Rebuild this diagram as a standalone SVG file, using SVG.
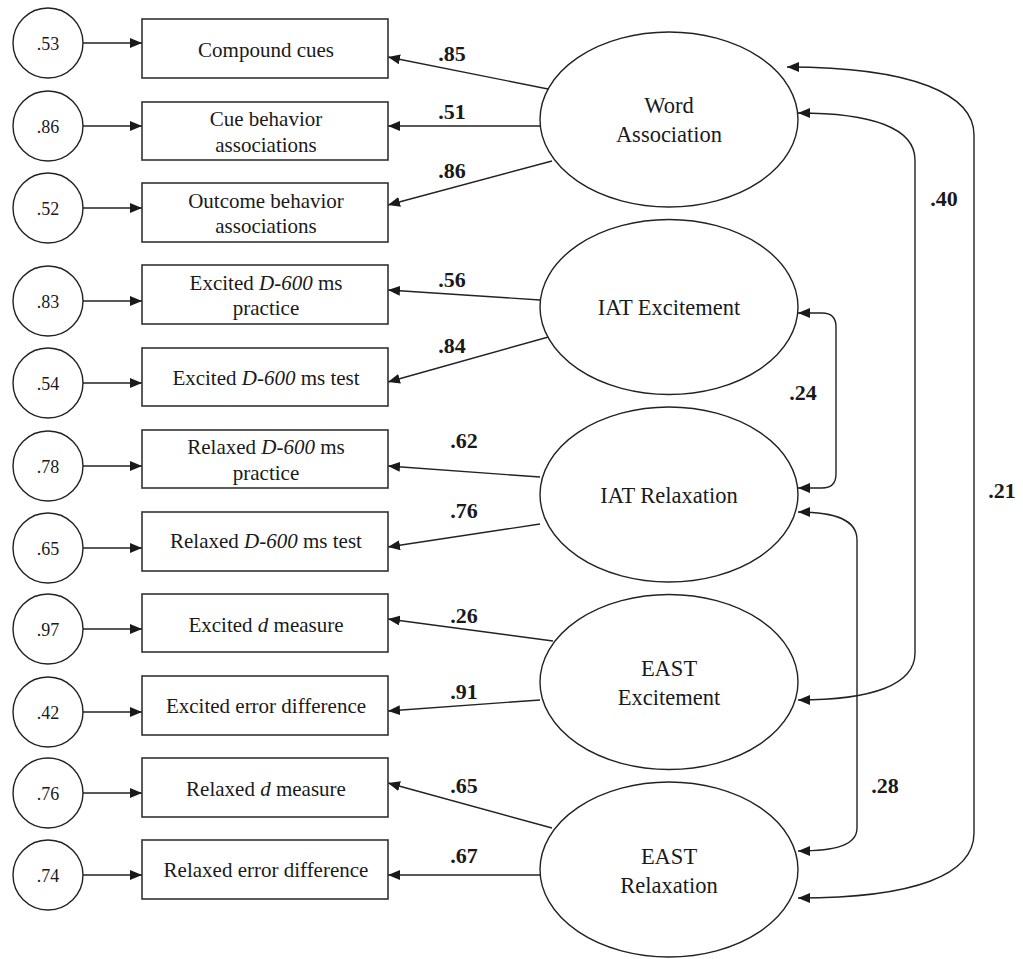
<svg xmlns="http://www.w3.org/2000/svg" width="1023" height="959" viewBox="0 0 1023 959">
<style>
.c{fill:#fff;stroke:#222;stroke-width:1.4}
.b{fill:#fff;stroke:#333;stroke-width:1.6}
text{font-family:'Liberation Serif','DejaVu Serif',serif;fill:#1a1a1a;text-anchor:middle}
.ct{font-size:18px}
.bt{font-size:21px}
.lt{font-size:22.5px}
.w{font-weight:bold;font-size:22px}
.a{fill:none;stroke:#222;stroke-width:1.4;marker-end:url(#ah)}
.d{fill:none;stroke:#222;stroke-width:1.4;marker-start:url(#ah);marker-end:url(#ah)}
</style>
<defs>
<marker id="ah" viewBox="0 0 12 10" refX="12" refY="5" markerWidth="12" markerHeight="10" markerUnits="userSpaceOnUse" orient="auto-start-reverse">
<path d="M0,0 L12,5 L0,10 z" fill="#1a1a1a"/>
</marker>
</defs>
<rect width="1023" height="959" fill="#fff"/>

<g id="connectors">
<path class="a" d="M83 43 H142"/>
<path class="a" d="M83 126 H142"/>
<path class="a" d="M83 208 H142"/>
<path class="a" d="M83 301 H142"/>
<path class="a" d="M83 383 H142"/>
<path class="a" d="M83 466 H142"/>
<path class="a" d="M83 548 H142"/>
<path class="a" d="M83 629 H142"/>
<path class="a" d="M83 712 H142"/>
<path class="a" d="M83 793 H142"/>
<path class="a" d="M83 875 H142"/>
<path class="a" d="M553 90 L388 57"/>
<path class="a" d="M540 126 L388 126"/>
<path class="a" d="M552 161 L388 205"/>
<path class="a" d="M540 300 L388 290"/>
<path class="a" d="M552 336 L388 382"/>
<path class="a" d="M540 477 L388 466"/>
<path class="a" d="M540 524 L388 547"/>
<path class="a" d="M553 641 L388 619"/>
<path class="a" d="M540 700 L388 711"/>
<path class="a" d="M552 828 L388 783"/>
<path class="a" d="M540 875 L388 875"/>
<path class="d" d="M798 313 H822 Q836 313 836 327 V474 Q836 488 822 488 H798"/>
<path class="d" d="M798 113 C872 113 915 128 915 160 V653 C915 685 872 700 798 700"/>
<path class="d" d="M787 67 C915 67 974 95 974 135 V833 C974 875 915 898 798 898"/>
<path class="d" d="M798 512 C836 512 857 520 857 540 V828 C857 845 836 851 798 851"/>
<text class="w" x="452" y="61">.85</text>
<text class="w" x="452" y="119">.51</text>
<text class="w" x="452" y="178">.86</text>
<text class="w" x="452" y="287">.56</text>
<text class="w" x="452" y="353">.84</text>
<text class="w" x="464" y="448">.62</text>
<text class="w" x="464" y="518">.76</text>
<text class="w" x="464" y="623">.26</text>
<text class="w" x="464" y="699">.91</text>
<text class="w" x="464" y="793">.65</text>
<text class="w" x="464" y="863">.67</text>
<text class="w" x="803" y="400">.24</text>
<text class="w" x="944" y="206">.40</text>
<text class="w" x="1002" y="498">.21</text>
<text class="w" x="885" y="793">.28</text>
</g>

<g id="e1"><circle class="c" cx="48" cy="43" r="35"/><text class="ct" x="48" y="50">.53</text></g>
<g id="e2"><circle class="c" cx="48" cy="126" r="35"/><text class="ct" x="48" y="133">.86</text></g>
<g id="e3"><circle class="c" cx="48" cy="208" r="35"/><text class="ct" x="48" y="215">.52</text></g>
<g id="e4"><circle class="c" cx="48" cy="301" r="35"/><text class="ct" x="48" y="308">.83</text></g>
<g id="e5"><circle class="c" cx="48" cy="383" r="35"/><text class="ct" x="48" y="390">.54</text></g>
<g id="e6"><circle class="c" cx="48" cy="466" r="35"/><text class="ct" x="48" y="473">.78</text></g>
<g id="e7"><circle class="c" cx="48" cy="548" r="35"/><text class="ct" x="48" y="555">.65</text></g>
<g id="e8"><circle class="c" cx="48" cy="629" r="35"/><text class="ct" x="48" y="636">.97</text></g>
<g id="e9"><circle class="c" cx="48" cy="712" r="35"/><text class="ct" x="48" y="719">.42</text></g>
<g id="e10"><circle class="c" cx="48" cy="793" r="35"/><text class="ct" x="48" y="800">.76</text></g>
<g id="e11"><circle class="c" cx="48" cy="875" r="35"/><text class="ct" x="48" y="882">.74</text></g>

<g id="m1"><rect class="b" x="142" y="19" width="246" height="59"/><text class="bt" x="266" y="57">Compound cues</text></g>
<g id="m2"><rect class="b" x="142" y="102" width="246" height="58"/><text class="bt" x="266" y="126">Cue behavior</text><text class="bt" x="266" y="152">associations</text></g>
<g id="m3"><rect class="b" x="142" y="183" width="246" height="59"/><text class="bt" x="266" y="208">Outcome behavior</text><text class="bt" x="266" y="233">associations</text></g>
<g id="m4"><rect class="b" x="142" y="265" width="246" height="59"/><text class="bt" x="266" y="290">Excited <tspan font-style="italic">D-600</tspan> ms</text><text class="bt" x="266" y="315">practice</text></g>
<g id="m5"><rect class="b" x="142" y="348" width="246" height="58"/><text class="bt" x="266" y="385">Excited <tspan font-style="italic">D-600</tspan> ms test</text></g>
<g id="m6"><rect class="b" x="142" y="430" width="246" height="58"/><text class="bt" x="266" y="454">Relaxed <tspan font-style="italic">D-600</tspan> ms</text><text class="bt" x="266" y="480">practice</text></g>
<g id="m7"><rect class="b" x="142" y="512" width="246" height="59"/><text class="bt" x="266" y="548">Relaxed <tspan font-style="italic">D-600</tspan> ms test</text></g>
<g id="m8"><rect class="b" x="142" y="594" width="246" height="58"/><text class="bt" x="266" y="632">Excited <tspan font-style="italic">d</tspan> measure</text></g>
<g id="m9"><rect class="b" x="142" y="676" width="246" height="59"/><text class="bt" x="266" y="713">Excited error difference</text></g>
<g id="m10"><rect class="b" x="142" y="758" width="246" height="59"/><text class="bt" x="266" y="796">Relaxed <tspan font-style="italic">d</tspan> measure</text></g>
<g id="m11"><rect class="b" x="142" y="840" width="246" height="59"/><text class="bt" x="266" y="877">Relaxed error difference</text></g>

<g id="wa"><ellipse class="c" cx="669" cy="119.5" rx="129" ry="87.5"/><text class="lt" x="669" y="113">Word</text><text class="lt" x="669" y="142">Association</text></g>
<g id="iatx"><ellipse class="c" cx="669" cy="307" rx="129" ry="87.5"/><text class="lt" x="669" y="315">IAT Excitement</text></g>
<g id="iatr"><ellipse class="c" cx="669" cy="494.5" rx="129" ry="87.5"/><text class="lt" x="669" y="503">IAT Relaxation</text></g>
<g id="eastx"><ellipse class="c" cx="669" cy="682" rx="129" ry="87.5"/><text class="lt" x="669" y="676">EAST</text><text class="lt" x="669" y="705">Excitement</text></g>
<g id="eastr"><ellipse class="c" cx="669" cy="869.5" rx="129" ry="87.5"/><text class="lt" x="669" y="864">EAST</text><text class="lt" x="669" y="893">Relaxation</text></g>
</svg>
